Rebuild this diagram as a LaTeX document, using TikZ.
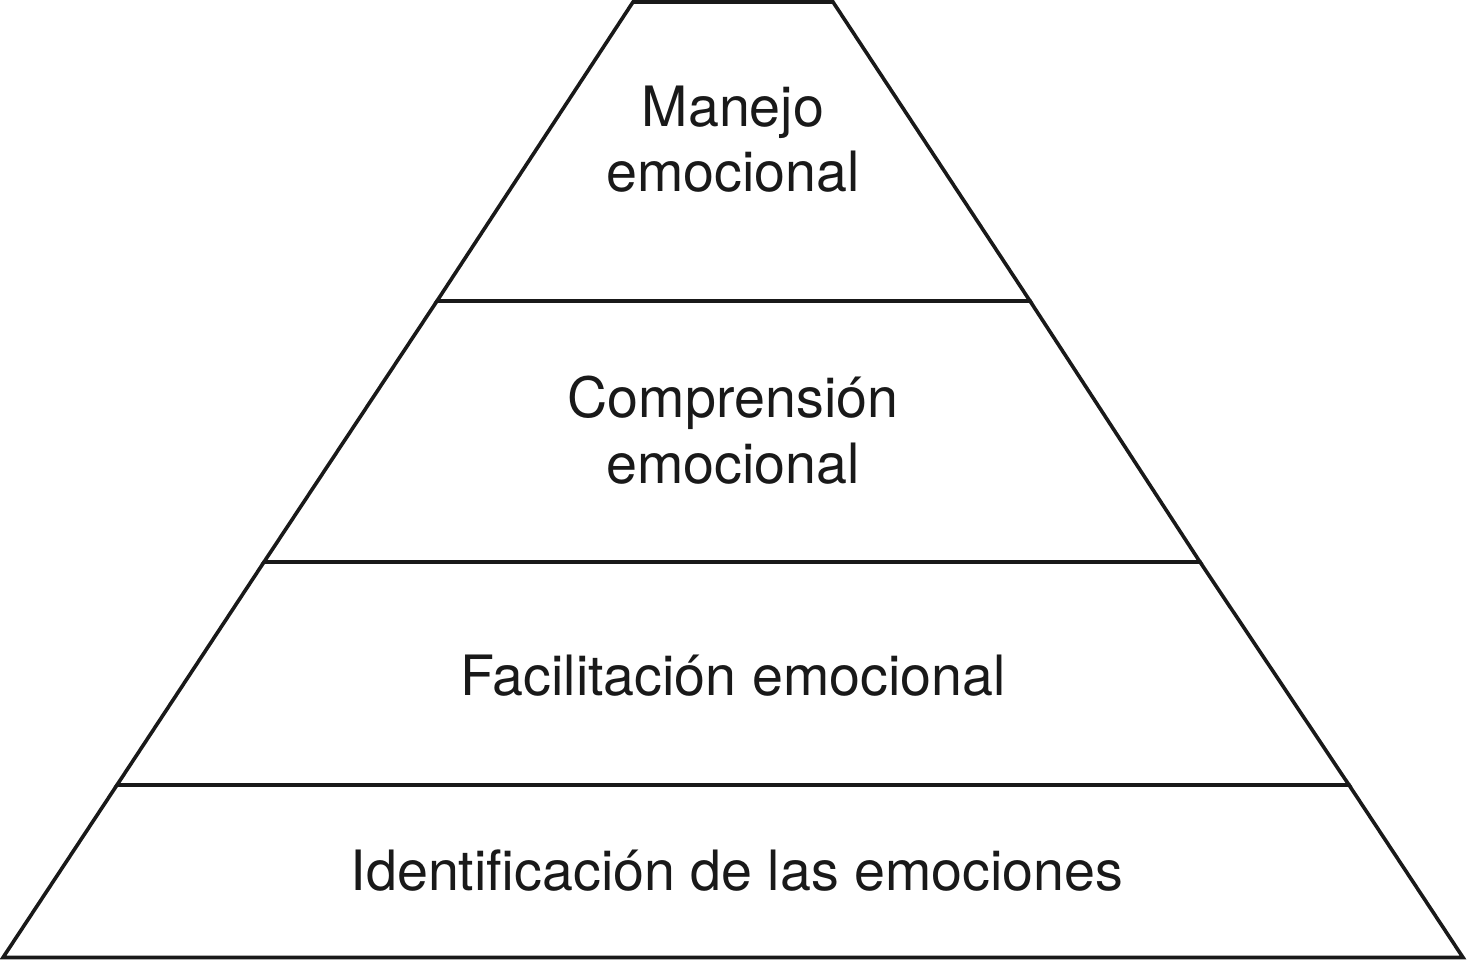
\documentclass[tikz,border=0pt]{standalone}
\usepackage{fontspec}
\setmainfont{TeX Gyre Heros}
\begin{document}
\begin{tikzpicture}[x=1pt,y=-1pt,
  layer/.style={draw=black!90,line width=3.6pt,line join=miter},
  lbl/.style={anchor=base,inner sep=0pt,font=\fontsize{55.6}{65}\selectfont,text=black!90}]
\useasboundingbox (0,0) rectangle (1467,960);
% layers
\draw[layer] (633,2) -- (833,2) -- (1030,301) -- (437,301) -- cycle;
\draw[layer] (437,301) -- (1030,301) -- (1200,562) -- (264,562) -- cycle;
\draw[layer] (264,562) -- (1200,562) -- (1349,785) -- (117,785) -- cycle;
\draw[layer] (117,785) -- (1349,785) -- (1463,957.5) -- (3,957.5) -- cycle;
% labels
\node[lbl] (l1a) at (733,127) {Manejo};
\node[lbl] (l1b) at (733,192) {emocional};
\node[lbl] (l2a) at (733,417) {Comprensión};
\node[lbl] (l2b) at (733,483) {emocional};
\node[lbl] (l3) at (733,695) {Facilitación emocional};
\node[lbl] (l4) at (737,890) {Identificación de las emociones};
\end{tikzpicture}
\end{document}
